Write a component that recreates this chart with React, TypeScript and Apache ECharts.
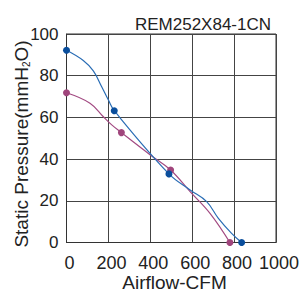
import React, { useEffect, useRef } from "react";
import * as echarts from "echarts";

const title = "REM252X84-1CN";
const xName = "Airflow-CFM";
const yName = "Static Pressure(mmH{sub|2}O)";
const xTicks = [0, 200, 400, 600, 800, 1000];
const yTicks = [0, 20, 40, 60, 80, 100];
// [airflow, pressure, isMarker]
const blueCurve: [number, number, number][] = [
  [0, 92.2, 1], [80, 87.3, 0], [128, 82.3, 0], [168, 74.7, 0], [200, 68.3, 0],
  [228, 63.2, 1], [489, 32.9, 1], [590, 25.2, 0], [669, 19.6, 0], [725, 11.6, 0],
  [788, 4.4, 0], [836, 0, 1],
];
const purpleCurve: [number, number, number][] = [
  [0, 71.8, 1], [112, 66.8, 0], [176, 60.3, 0], [216, 56.4, 0], [262, 52.7, 1],
  [400, 42, 0], [497, 34.8, 1], [590, 24.4, 0], [685, 14, 0], [780, 0, 1],
];

const BLUE_LINE = "#2a6db5";
const BLUE_DOT = "#0a4e9c";
const PURPLE_LINE = "#a24a82";
const PURPLE_DOT = "#a0457c";

function toData(c: [number, number, number][]) {
  return c.map(([x, y, m]) => ({
    value: [x, y],
    symbol: m ? "circle" : "none",
  }));
}

export default function App() {
  const ref = useRef<HTMLDivElement>(null);
  useEffect(() => {
    const chart = echarts.init(ref.current!, null, { renderer: "svg" });
    const font = "Liberation Sans, Arial, sans-serif";
    chart.setOption({
      animation: false,
      backgroundColor: "#ffffff",
      title: {
        text: title,
        right: 24,
        top: 11,
        textStyle: { fontFamily: font, fontSize: 17, fontWeight: "normal", color: "#222" },
      },
      graphic: [
        {
          type: "text",
          x: 174.5,
          y: 282,
          style: {
            text: xName,
            fontFamily: font,
            fontSize: 19,
            fill: "#222",
            align: "center",
            verticalAlign: "middle",
          },
        },
        {
          type: "text",
          x: 21.5,
          y: 144,
          rotation: Math.PI / 2,
          style: {
            text: yName,
            fontFamily: font,
            fontSize: 19,
            fill: "#222",
            align: "center",
            verticalAlign: "middle",
            rich: {
              sub: { fontFamily: font, fontSize: 10, fill: "#222", padding: [9, 0, 0, 0] },
            },
          },
        },
      ],
      grid: {
        left: 66.5,
        right: 24,
        top: 34,
        bottom: 52.5,
        outerBoundsMode: "none",
        containLabel: false,
        show: true,
        borderColor: "#333",
        borderWidth: 1,
      },
      xAxis: {
        type: "value",
        min: 0,
        max: 1000,
        interval: 200,
        axisLine: { show: true, lineStyle: { color: "#333" } },
        axisTick: { show: false },
        axisLabel: {
          fontFamily: font,
          fontSize: 18,
          color: "#222",
          margin: 11,
          padding: [0, 0, 0, 6],
          formatter: (v: number) => (xTicks.includes(v) ? String(v) : ""),
        },
        splitLine: { show: true, lineStyle: { color: "#444", width: 1 } },
      },
      yAxis: {
        type: "value",
        min: 0,
        max: 100,
        interval: 20,
        axisLine: { show: true, lineStyle: { color: "#333" } },
        axisTick: { show: false },
        axisLabel: {
          fontFamily: font,
          fontSize: 17,
          color: "#222",
          margin: 8,
          formatter: (v: number) => (yTicks.includes(v) ? String(v) : ""),
        },
        splitLine: { show: true, lineStyle: { color: "#444", width: 1 } },
      },
      series: [
        {
          type: "line",
          smooth: 0.4,
          data: toData(purpleCurve),
          symbolSize: 7,
          lineStyle: { color: PURPLE_LINE, width: 1.2 },
          itemStyle: { color: PURPLE_DOT },
        },
        {
          type: "line",
          smooth: 0.4,
          data: toData(blueCurve),
          symbolSize: 7,
          lineStyle: { color: BLUE_LINE, width: 1.2 },
          itemStyle: { color: BLUE_DOT },
        },
      ],
    });
    return () => chart.dispose();
  }, []);
  return (
    <div
      ref={ref}
      style={{ position: "absolute", left: 0, top: 0, width: 300, height: 295 }}
    />
  );
}
